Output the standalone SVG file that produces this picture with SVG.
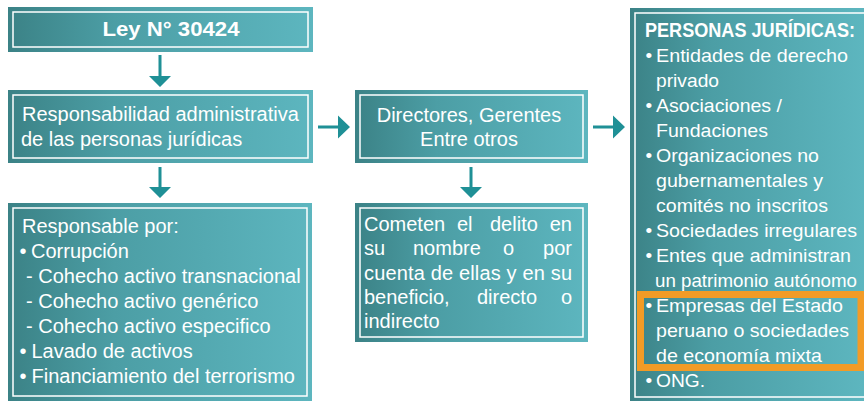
<svg xmlns="http://www.w3.org/2000/svg" width="864" height="402" viewBox="0 0 864 402">
<defs>
<linearGradient id="g" x1="0" y1="0" x2="1" y2="0">
<stop offset="0" stop-color="#3b8286"/>
<stop offset="0.35" stop-color="#4c9ea5"/>
<stop offset="1" stop-color="#5db6bf"/>
</linearGradient>
<style>
.box{fill:url(#g);}
.in{fill:none;stroke:#ffffff;stroke-width:1.5;}
.t{font-family:"Liberation Sans",Arial,sans-serif;font-size:20px;fill:#ffffff;}
.r{font-family:"Liberation Sans",Arial,sans-serif;font-size:19px;fill:#ffffff;}
.b{font-weight:bold;}
.arr{fill:#1f9096;}
</style>
</defs>
<rect width="864" height="402" fill="#ffffff"/>
<g id="connectors">
<path class="arr" d="M158.5,55h3v21h9.5l-11,11l-11,-11h9.5z"/>
<path class="arr" d="M158.5,167h3v20h9.5l-11,11l-11,-11h9.5z"/>
<path class="arr" d="M469.5,167h3v20h9.5l-11,11l-11,-11h9.5z"/>
<path class="arr" d="M318,125.5h20v-10l12,11.5l-12,11.5v-10h-20z"/>
<path class="arr" d="M593,125.5h20v-10l12,11.5l-12,11.5v-10h-20z"/>
</g>
<g id="ley">
<rect class="box" x="8" y="7" width="305" height="45"/>
<rect class="in" x="13" y="12" width="295" height="35"/>
<text class="t b" x="171" y="36" text-anchor="middle" font-size="21" textLength="137" lengthAdjust="spacingAndGlyphs">Ley N° 30424</text>
</g>
<g id="responsabilidad">
<rect class="box" x="8" y="90" width="305" height="73"/>
<rect class="in" x="13" y="95" width="295" height="63"/>
<text class="t" x="22" y="121">Responsabilidad administrativa</text>
<text class="t" x="21" y="146">de las personas jurídicas</text>
</g>
<g id="responsable">
<rect class="box" x="8" y="203" width="304" height="198"/>
<rect class="in" x="13" y="208" width="294" height="188"/>
<text class="t" x="22" y="233">Responsable por:</text>
<text class="t" x="19.5" y="258">•</text><text class="t" x="31" y="258">Corrupción</text>
<text class="t" x="26" y="283">- Cohecho activo transnacional</text>
<text class="t" x="26" y="308">- Cohecho activo genérico</text>
<text class="t" x="26" y="333">- Cohecho activo especifico</text>
<text class="t" x="19.5" y="358">•</text><text class="t" x="31.5" y="358">Lavado de activos</text>
<text class="t" x="19.5" y="383">•</text><text class="t" x="31.5" y="383">Financiamiento del terrorismo</text>
</g>
<g id="directores">
<rect class="box" x="355" y="90" width="233" height="73"/>
<rect class="in" x="360" y="95" width="223" height="63"/>
<text class="t" x="469" y="122" text-anchor="middle">Directores, Gerentes</text>
<text class="t" x="469" y="146" text-anchor="middle">Entre otros</text>
</g>
<g id="cometen">
<rect class="box" x="355" y="203" width="233" height="139"/>
<rect class="in" x="360" y="208" width="223" height="129"/>
<text class="t" x="364" y="231">Cometen</text><text class="t" x="457" y="231">el</text><text class="t" x="490" y="231">delito</text><text class="t" x="572" y="231" text-anchor="end">en</text>
<text class="t" x="364" y="255">su</text><text class="t" x="413" y="255">nombre</text><text class="t" x="503" y="255">o</text><text class="t" x="572" y="255" text-anchor="end">por</text>
<text class="t" x="364" y="280" textLength="208" lengthAdjust="spacing">cuenta de ellas y en su</text>
<text class="t" x="364" y="304">beneficio,</text><text class="t" x="477" y="304">directo</text><text class="t" x="572" y="304" text-anchor="end">o</text>
<text class="t" x="364" y="328">indirecto</text>
</g>
<g id="personas">
<rect class="box" x="630" y="8" width="234" height="393"/>
<path class="in" d="M864,13H635V397H864"/>
<text class="t b" x="645" y="37" font-size="16.5" textLength="210" lengthAdjust="spacingAndGlyphs">PERSONAS JURÍDICAS:</text>
<text class="r" x="645.5" y="62">•</text><text class="r" x="656" y="62" textLength="192" lengthAdjust="spacingAndGlyphs">Entidades de derecho</text>
<text class="r" x="656" y="87" textLength="63" lengthAdjust="spacingAndGlyphs">privado</text>
<text class="r" x="645.5" y="112">•</text><text class="r" x="656" y="112" textLength="126" lengthAdjust="spacingAndGlyphs">Asociaciones /</text>
<text class="r" x="656" y="137" textLength="112" lengthAdjust="spacingAndGlyphs">Fundaciones</text>
<text class="r" x="645.5" y="162">•</text><text class="r" x="656" y="162" textLength="163" lengthAdjust="spacingAndGlyphs">Organizaciones no</text>
<text class="r" x="656" y="187" textLength="167" lengthAdjust="spacingAndGlyphs">gubernamentales y</text>
<text class="r" x="656" y="212" textLength="172" lengthAdjust="spacingAndGlyphs">comités no inscritos</text>
<text class="r" x="645.5" y="237">•</text><text class="r" x="656" y="237" textLength="201" lengthAdjust="spacingAndGlyphs">Sociedades irregulares</text>
<text class="r" x="645.5" y="262">•</text><text class="r" x="656" y="262" textLength="195" lengthAdjust="spacingAndGlyphs">Entes que administran</text>
<text class="r" x="655" y="287" textLength="202" lengthAdjust="spacingAndGlyphs">un patrimonio autónomo</text>
<text class="r" x="645.5" y="312">•</text><text class="r" x="656" y="312" textLength="187" lengthAdjust="spacingAndGlyphs">Empresas del Estado</text>
<text class="r" x="656" y="337" textLength="193" lengthAdjust="spacingAndGlyphs">peruano o sociedades</text>
<text class="r" x="656" y="362" textLength="166" lengthAdjust="spacingAndGlyphs">de economía mixta</text>
<text class="r" x="645.5" y="387">•</text><text class="r" x="656" y="387" textLength="49" lengthAdjust="spacingAndGlyphs">ONG.</text>
<rect x="640.5" y="294.5" width="220.5" height="73" fill="none" stroke="#f29b26" stroke-width="7"/>
</g>
</svg>
